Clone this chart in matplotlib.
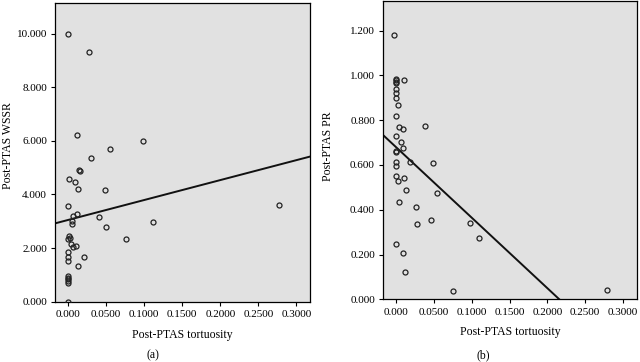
import matplotlib
matplotlib.use('Agg')
import matplotlib.pyplot as plt
import numpy as np

# Panel (a): Post-PTAS tortuosity vs Post-PTAS WSSR
wssr_x = [0.000, 0.0275, 0.012, 0.098, 0.055, 0.030, 0.014, 0.015, 0.001, 0.009,
          0.0125, 0.0485, 0.000, 0.277, 0.011, 0.006, 0.040, 0.005, 0.005, 0.111,
          0.050, 0.001, 0.002, 0.000, 0.0764, 0.004, 0.010, 0.006, 0.000, 0.000,
          0.000, 0.021, 0.0125, 0.000, 0.000, 0.000, 0.000, 0.000, 0.000]
wssr_y = [9.99, 9.30, 6.20, 6.00, 5.68, 5.36, 4.93, 4.88, 4.56, 4.48,
          4.22, 4.16, 3.56, 3.60, 3.27, 3.21, 3.17, 3.01, 2.90, 2.99,
          2.79, 2.46, 2.39, 2.33, 2.32, 2.15, 2.07, 2.04, 1.87, 1.67,
          1.52, 1.65, 1.34, 0.96, 0.90, 0.84, 0.78, 0.69, 0.00]
wssr_fit = (3.05, 7.43)  # intercept, slope

# Panel (b): Post-PTAS tortuosity vs Post-PTAS PR
pr_x = [-0.003, 0.000, 0.000, 0.000, 0.000, 0.0106, 0.000, 0.000, 0.000, 0.0027,
        0.000, 0.004, 0.0093, 0.038, 0.000, 0.007, 0.0097, 0.000, 0.000, 0.000,
        0.000, 0.0186, 0.0486, 0.000, 0.003, 0.010, 0.0128, 0.054, 0.0035, 0.0256,
        0.028, 0.046, 0.0976, 0.110, 0.0004, 0.0084, 0.012, 0.075, 0.2785]
pr_y = [1.18, 0.985, 0.978, 0.972, 0.966, 0.980, 0.940, 0.920, 0.898, 0.867,
        0.817, 0.768, 0.761, 0.772, 0.729, 0.704, 0.677, 0.664, 0.657, 0.615,
        0.596, 0.613, 0.608, 0.552, 0.530, 0.542, 0.487, 0.473, 0.436, 0.411,
        0.335, 0.353, 0.339, 0.274, 0.245, 0.205, 0.123, 0.036, 0.043]
pr_fit = (0.679, -3.148)

x_ticks = [0.0, 0.05, 0.10, 0.15, 0.20, 0.25, 0.30]
x_ticklabels = ['0.000', '0.0500', '0.1000', '0.1500', '0.2000', '0.2500', '0.3000']

plt.rcParams['font.family'] = ['Liberation Serif', 'DejaVu Serif']
plt.rcParams['font.size'] = 8

fig = plt.figure(figsize=(6.4, 3.62), dpi=100)
ax1 = fig.add_axes([0.0864, 0.1666, 0.3980, 0.8243])
ax2 = fig.add_axes([0.5989, 0.1732, 0.3959, 0.8240])


def panel(ax, x, y, fit, ylim, yticks, ylabel, label_xy):
    ax.set_facecolor('#e1e1e1')
    xs = np.array([-0.017, 0.318])
    ax.plot(xs, fit[0] + fit[1] * xs, color='#111111', lw=1.4, zorder=2)
    ax.plot(x, y, 'o', ms=3.6, mfc='none', mec='#222222', mew=0.9, zorder=3)
    ax.set_xlim(-0.017, 0.318)
    ax.set_ylim(*ylim)
    ax.set_xticks(x_ticks)
    ax.set_xticklabels(x_ticklabels)
    ax.set_yticks(yticks)
    ax.set_yticklabels(['%.3f' % t for t in yticks])
    ax.tick_params(length=3, width=0.8, pad=3, labelsize=8)
    for s in ax.spines.values():
        s.set_linewidth(0.9)
    ax.set_xlabel('Post-PTAS tortuosity', fontsize=8.5, labelpad=7)
    ax.set_ylabel(ylabel, fontsize=8.5)
    ax.yaxis.set_label_coords(*label_xy)


panel(ax1, wssr_x, wssr_y, wssr_fit, (0, 11.13), [0, 2, 4, 6, 8, 10],
      'Post-PTAS WSSR', (-0.163, 0.522))
panel(ax2, pr_x, pr_y, pr_fit, (0, 1.332), [0, 0.2, 0.4, 0.6, 0.8, 1.0, 1.2],
      'Post-PTAS PR', (-0.193, 0.514))

fig.text(153 / 640, 1 - 355 / 362, '(a)', ha='center', va='center', fontsize=8.5)
fig.text(483 / 640, 1 - 355 / 362, '(b)', ha='center', va='center', fontsize=8.5)

fig.savefig('out.png', dpi=100)
